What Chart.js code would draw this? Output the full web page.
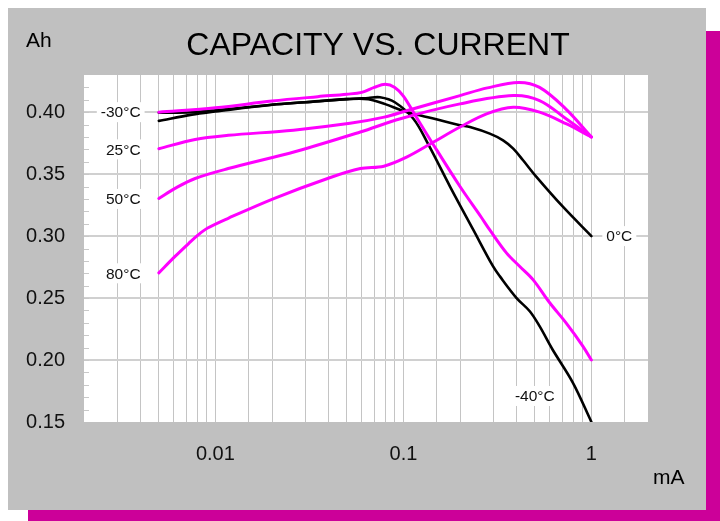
<!DOCTYPE html>
<html>
<head>
<meta charset="utf-8">
<script src="https://cdn.jsdelivr.net/npm/chart.js@4/dist/chart.umd.min.js"></script>
<style>
  html, body { margin: 0; padding: 0; background: #ffffff; }
  #wrap { width: 720px; height: 521px; }
</style>
</head>
<body>
<div id="wrap"><canvas id="c" width="720" height="521"></canvas></div>
<script>
// ---------------- DATA ----------------
const chartTitle = 'CAPACITY VS. CURRENT';
const yUnit = 'Ah';
const xUnit = 'mA';
const xTickLabels = [0.01, 0.1, 1];
const yLabelEvery = 0.05;

// -30°C (magenta)
const xM30 = [0.005, 0.01, 0.02, 0.035, 0.05, 0.06, 0.07, 0.08, 0.09, 0.1, 0.115, 0.14, 0.2, 0.26, 0.288, 0.354, 0.416, 0.489, 0.6, 0.733, 0.9, 1];
const yM30 = [0.400, 0.4035, 0.409, 0.4125, 0.4145, 0.416, 0.420, 0.4225, 0.420, 0.413, 0.398, 0.377, 0.340, 0.315, 0.305, 0.2863, 0.2755, 0.2649, 0.2462, 0.230, 0.2113, 0.200];
// 25°C (magenta)
const xP25 = [0.005, 0.0078, 0.0117, 0.026, 0.052, 0.079, 0.105, 0.2, 0.28, 0.41, 0.53, 0.73, 1];
const yP25 = [0.3705, 0.378, 0.3813, 0.3855, 0.391, 0.396, 0.4014, 0.4134, 0.4196, 0.424, 0.420, 0.4027, 0.380];
// 50°C (magenta)
const xP50 = [0.005, 0.0061, 0.0078, 0.0117, 0.027, 0.059, 0.0964, 0.2, 0.384, 0.53, 0.733, 1];
const yP50 = [0.3304, 0.3385, 0.3465, 0.3545, 0.3685, 0.384, 0.3947, 0.4067, 0.4134, 0.4094, 0.3947, 0.380];
// 80°C (magenta)
const xP80 = [0.005, 0.0061, 0.0072, 0.0081, 0.0091, 0.0117, 0.0206, 0.0395, 0.059, 0.0787, 0.1046, 0.1447, 0.2, 0.277, 0.384, 0.53, 0.733, 1];
const yP80 = [0.2703, 0.2836, 0.2940, 0.3010, 0.3065, 0.3144, 0.3305, 0.3465, 0.3545, 0.3564, 0.3639, 0.3759, 0.388, 0.3987, 0.404, 0.400, 0.3907, 0.380];
// 0°C (black)
const xP0 = [0.005, 0.0075, 0.01, 0.02, 0.03, 0.05, 0.065, 0.08, 0.1, 0.135, 0.2, 0.226, 0.288, 0.339, 0.384, 0.433, 0.51, 0.705, 1];
const yP0 = [0.3995, 0.400, 0.4015, 0.406, 0.408, 0.4105, 0.4105, 0.4065, 0.401, 0.396, 0.3895, 0.388, 0.3827, 0.3773, 0.3706, 0.3612, 0.3478, 0.3237, 0.300];
// -40°C (black)
const xM40 = [0.005, 0.0075, 0.01, 0.02, 0.03, 0.05, 0.065, 0.075, 0.09, 0.113, 0.135, 0.177, 0.2355, 0.30, 0.326, 0.40, 0.47, 0.53, 0.62, 0.795, 1];
const yM40 = [0.393, 0.398, 0.4005, 0.406, 0.408, 0.4105, 0.4115, 0.412, 0.408, 0.3947, 0.3746, 0.340, 0.305, 0.2755, 0.2675, 0.250, 0.2394, 0.2273, 0.2087, 0.182, 0.150];

// curve labels: text, anchor x (mA), anchor y (Ah), alignment
const labelTexts = ['-30°C', '25°C', '50°C', '80°C', '0°C', '-40°C'];
const labelX = [0.004, 0.004, 0.004, 0.004, 1.2, 0.5];
const labelY = [0.40, 0.37, 0.33, 0.27, 0.30, 0.171];
const labelAlign = ['right', 'right', 'right', 'right', 'left', 'center'];

// ---------------- STYLE ----------------
const MAGENTA = '#ff00ff';
const BLACK = '#000000';
const FONT = "'Liberation Sans', Arial, Helvetica, sans-serif";

function pts(xs, ys) { return xs.map((x, i) => ({ x: x, y: ys[i] })); }
function ds(xs, ys, color, w) {
  return {
    data: pts(xs, ys), borderColor: color, borderWidth: w, pointRadius: 0,
    fill: false, tension: 0.35, borderCapStyle: 'round', borderJoinStyle: 'round'
  };
}

const decorPlugin = {
  id: 'decor',
  beforeDraw(chart) {
    const ctx = chart.ctx, a = chart.chartArea;
    ctx.save();
    ctx.fillStyle = '#ffffff';
    ctx.fillRect(0, 0, 720, 521);
    ctx.fillStyle = '#cc0099';
    ctx.fillRect(28, 31, 692, 490);
    ctx.fillStyle = '#c0c0c0';
    ctx.fillRect(8, 8, 698, 502);
    ctx.fillStyle = '#ffffff';
    ctx.fillRect(a.left, a.top, a.right - a.left, a.bottom - a.top);
    // title & units
    ctx.fillStyle = '#000';
    ctx.textBaseline = 'alphabetic';
    ctx.textAlign = 'center';
    ctx.font = '32px ' + FONT;
    ctx.fillText(chartTitle, 378, 55);
    ctx.textAlign = 'left';
    ctx.font = '21px ' + FONT;
    ctx.fillText(yUnit, 26, 47);
    ctx.fillText(xUnit, 653, 484);
    ctx.restore();
  },
  beforeDatasetsDraw(chart) {
    // minor y ticks inside the plot
    const ctx = chart.ctx, a = chart.chartArea, ys = chart.scales.y;
    ctx.save();
    ctx.strokeStyle = '#c8c8c8';
    ctx.lineWidth = 1;
    ys.ticks.forEach(t => {
      const p = Math.round(ys.getPixelForValue(t.value)) + 0.5;
      if (p <= a.top + 1 || p >= a.bottom - 1) return;
      ctx.beginPath();
      ctx.moveTo(a.left, p);
      ctx.lineTo(a.left + 5, p);
      ctx.stroke();
    });
    ctx.restore();
  },
  afterDatasetsDraw(chart) {
    const ctx = chart.ctx, xs = chart.scales.x, ys = chart.scales.y;
    ctx.save();
    ctx.font = '15.5px ' + FONT;
    ctx.textBaseline = 'middle';
    labelTexts.forEach((t, i) => {
      const px = xs.getPixelForValue(labelX[i]);
      const py = ys.getPixelForValue(labelY[i]);
      const w = ctx.measureText(t).width;
      let left = px;
      if (labelAlign[i] === 'right') left = px - w;
      else if (labelAlign[i] === 'center') left = px - w / 2;
      ctx.fillStyle = '#ffffff';
      ctx.fillRect(left - 4, py - 10, w + 8, 20);
      ctx.fillStyle = '#111';
      ctx.textAlign = 'left';
      ctx.fillText(t, left, py + 1);
    });
    ctx.restore();
  }
};

new Chart(document.getElementById('c'), {
  type: 'line',
  data: {
    datasets: [
      ds(xM30, yM30, MAGENTA, 3),
      ds(xP25, yP25, MAGENTA, 3),
      ds(xP50, yP50, MAGENTA, 3),
      ds(xP80, yP80, MAGENTA, 3),
      ds(xP0, yP0, BLACK, 2.6),
      ds(xM40, yM40, BLACK, 2.6)
    ]
  },
  options: {
    responsive: false,
    animation: false,
    devicePixelRatio: 1,
    layout: { padding: { left: 8, top: 75, right: 72, bottom: 0 } },
    plugins: { legend: { display: false }, title: { display: false }, tooltip: { enabled: false } },
    scales: {
      x: {
        type: 'logarithmic',
        min: 0.002, max: 2,
        afterFit(s) { s.height = 99; },
        border: { display: false },
        grid: {
          drawTicks: false,
          lineWidth: 1,
          color(c) {
            const v = c.tick && c.tick.value;
            if (v === undefined) return 'rgba(0,0,0,0)';
            if (Math.abs(v - 0.002) < 1e-9 || Math.abs(v - 2) < 1e-9) return 'rgba(0,0,0,0)';
            return '#c4c4c4';
          }
        },
        ticks: {
          autoSkip: false, maxRotation: 0, minRotation: 0, padding: 20,
          color: '#111', font: { family: FONT, size: 20 },
          callback(v) {
            for (const t of xTickLabels) { if (Math.abs(v - t) / t < 1e-6) return String(t); }
            return '';
          }
        }
      },
      y: {
        type: 'linear',
        min: 0.15, max: 0.43,
        afterFit(s) { s.width = 76; },
        border: { display: false },
        grid: {
          drawTicks: false,
          lineWidth: 2,
          color(c) {
            const v = c.tick && c.tick.value;
            if (v === undefined) return 'rgba(0,0,0,0)';
            const k = Math.round(v * 100);
            if (k <= 15 || k >= 43) return 'rgba(0,0,0,0)';
            return (k % Math.round(yLabelEvery * 100) === 0) ? '#d0d0d0' : 'rgba(0,0,0,0)';
          }
        },
        ticks: {
          stepSize: 0.01, autoSkip: false, padding: 19,
          color: '#111', font: { family: FONT, size: 20 },
          callback(v) {
            const k = Math.round(v * 100);
            return (k % Math.round(yLabelEvery * 100) === 0) ? v.toFixed(2) : '';
          }
        }
      }
    }
  },
  plugins: [decorPlugin]
});
</script>
</body>
</html>
